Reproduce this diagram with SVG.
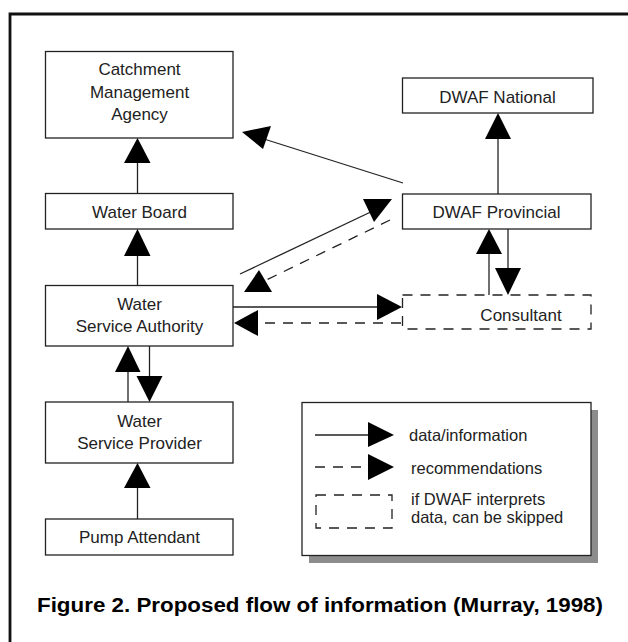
<svg xmlns="http://www.w3.org/2000/svg" width="628" height="642" viewBox="0 0 628 642">
<style>
.box{fill:#fff;stroke:#222;stroke-width:1.3}
.dbox{fill:none;stroke:#222;stroke-width:1.3;stroke-dasharray:10 8}
.t{font-family:"Liberation Sans",Arial,sans-serif;font-size:17px;fill:#222;text-anchor:middle}
.lt{font-family:"Liberation Sans",Arial,sans-serif;font-size:16.5px;fill:#222}
.ln{stroke:#222;stroke-width:1.3;fill:none}
.dl{stroke:#222;stroke-width:1.3;fill:none;stroke-dasharray:10 8}
.hd{fill:#000}
</style>
<rect width="628" height="642" fill="#fff"/>
<path d="M10,642 V14 H628" fill="none" stroke="#111" stroke-width="2.8"/>

<g id="cma">
<rect class="box" x="45.5" y="51.5" width="187.5" height="86.5"/>
<text class="t" x="139.5" y="75">Catchment</text>
<text class="t" x="139.5" y="98">Management</text>
<text class="t" x="139.5" y="120">Agency</text>
</g>
<g id="water-board">
<rect class="box" x="45.5" y="193.5" width="187.5" height="35.5"/>
<text class="t" x="139.5" y="218">Water Board</text>
</g>
<g id="wsa">
<rect class="box" x="45.5" y="285.5" width="187.5" height="60.5"/>
<text class="t" x="139.5" y="310">Water</text>
<text class="t" x="139.5" y="332">Service Authority</text>
</g>
<g id="wsp">
<rect class="box" x="45.5" y="402" width="187.5" height="61"/>
<text class="t" x="139.5" y="426.5">Water</text>
<text class="t" x="139.5" y="449">Service Provider</text>
</g>
<g id="pump">
<rect class="box" x="45.5" y="519" width="187.5" height="36"/>
<text class="t" x="139.5" y="543">Pump Attendant</text>
</g>
<g id="dwaf-national">
<rect class="box" x="402.5" y="78" width="190.5" height="35"/>
<text class="t" x="497.5" y="103">DWAF National</text>
</g>
<g id="dwaf-provincial">
<rect class="box" x="402.5" y="194" width="188.5" height="35"/>
<text class="t" x="496.5" y="218">DWAF Provincial</text>
</g>
<g id="consultant">
<rect class="dbox" x="402.5" y="295" width="188.5" height="34"/>
<text class="t" x="521" y="320.5">Consultant</text>
</g>

<g id="connectors">
<line class="ln" x1="137.5" y1="193" x2="137.5" y2="162"/>
<polygon class="hd" points="124,163 150.5,163 137.5,138"/>
<line class="ln" x1="137.5" y1="285" x2="137.5" y2="255"/>
<polygon class="hd" points="124,256 150.5,256 137.5,229"/>
<line class="ln" x1="498" y1="194" x2="498" y2="138"/>
<polygon class="hd" points="485,139 511,139 498,113"/>
<line class="ln" x1="489" y1="295" x2="489" y2="253"/>
<polygon class="hd" points="476,254 502,254 489,229"/>
<line class="ln" x1="508" y1="229" x2="508" y2="269"/>
<polygon class="hd" points="495,268 521,268 508,295"/>
<line class="ln" x1="128" y1="402" x2="128" y2="371"/>
<polygon class="hd" points="115,372 140.5,372 128,346"/>
<line class="ln" x1="149.5" y1="346" x2="149.5" y2="377"/>
<polygon class="hd" points="136.5,376 162.5,376 149.5,402"/>
<line class="ln" x1="137.5" y1="519" x2="137.5" y2="487"/>
<polygon class="hd" points="124,488 150.5,488 137.5,463"/>
<line class="ln" x1="233" y1="307" x2="378" y2="307"/>
<polygon class="hd" points="377,294 377,320 402,307"/>
<line class="dl" x1="401" y1="323" x2="257" y2="323"/>
<polygon class="hd" points="258,310 258,336 234,323"/>
<line class="ln" x1="403" y1="183" x2="264" y2="139"/>
<polygon class="hd" points="242,132 271,126 263,149"/>
<line class="ln" x1="240" y1="274" x2="377" y2="209"/>
<polygon class="hd" points="363,199 392,199 374,222"/>
<line class="dl" x1="390" y1="220" x2="258" y2="284"/>
<polygon class="hd" points="244,292 272,292 259,270"/>
</g>

<g id="legend">
<rect x="309" y="410" width="289" height="153" fill="#8c8c8c"/>
<rect class="box" x="302" y="402.5" width="289" height="153"/>
<line class="ln" x1="315" y1="435" x2="369" y2="435"/>
<polygon class="hd" points="368,422 368,447 394,435"/>
<text class="lt" x="409" y="441">data/information</text>
<line class="dl" x1="315" y1="467" x2="369" y2="467"/>
<polygon class="hd" points="368,454 368,480 394,467"/>
<text class="lt" x="411" y="474">recommendations</text>
<rect class="dbox" x="316" y="495" width="76" height="33"/>
<text class="lt" x="411" y="505" font-size="15.5">if DWAF interprets</text>
<text class="lt" x="411" y="523" font-size="15.5">data, can be skipped</text>
</g>

<text x="37" y="612" font-family="'Liberation Sans',Arial,sans-serif" font-weight="bold" font-size="20" fill="#000" textLength="566" lengthAdjust="spacingAndGlyphs">Figure 2. Proposed flow of information (Murray, 1998)</text>
</svg>
